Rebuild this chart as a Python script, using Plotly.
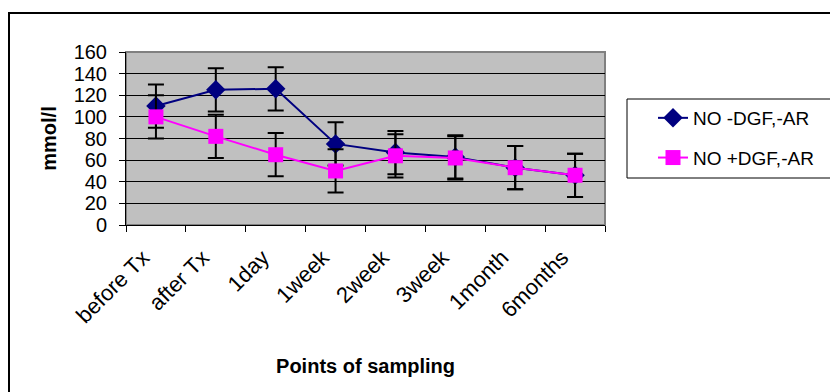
import plotly.graph_objects as go

categories = ["before Tx", "after Tx", "1day", "1week", "2week", "3week", "1month", "6months"]
no_neg_dgf = [110, 125, 126, 75, 67, 63, 53, 46]
no_pos_dgf = [100, 82, 65, 50, 64, 62, 53, 46]
err_neg = [20, 20, 20, 20, 20, 20, 20, 20]
err_pos = [20, 20, 20, 20, 20, 20, 20, 20]
y_ticks = [0, 20, 40, 60, 80, 100, 120, 140, 160]

W, H = 838, 392
OFF = 8  # browser body margin
L, R, T, B = 126, 605, 52, 225  # plot area in page pixels

def px(x):
    return (x - L) / (R - L)

def py(y):
    return (B - y) / (B - T)

fig = go.Figure()
fig.add_trace(go.Scatter(
    x=categories, y=no_neg_dgf, name="NO -DGF,-AR", legendgroup="a",
    mode="lines+markers",
    line=dict(color="#000080", width=2),
    marker=dict(symbol="diamond", size=15, color="#000080"),
    error_y=dict(type="data", array=err_neg, color="black", thickness=2, width=8),
))
fig.add_trace(go.Scatter(
    x=categories, y=no_pos_dgf, name="NO +DGF,-AR", legendgroup="b",
    mode="lines+markers",
    line=dict(color="#FF00FF", width=2),
    marker=dict(symbol="square", size=15, color="#FF00FF"),
    error_y=dict(type="data", array=err_pos, color="black", thickness=2, width=8),
))

font = "Liberation Sans, Arial, sans-serif"

fig.update_layout(
    width=W, height=H,
    margin=dict(l=L - OFF, r=W - R + OFF, t=T - OFF, b=H - B + OFF, pad=0),
    paper_bgcolor="white",
    plot_bgcolor="#C0C0C0",
    font=dict(family=font, color="black", size=18),
    showlegend=True,
    legend=dict(
        x=px(653), y=py(99), xanchor="left", yanchor="top",
        bgcolor="rgba(0,0,0,0)", borderwidth=0,
        font=dict(size=19, family=font, color="black"),
        tracegroupgap=12,
    ),
    xaxis=dict(
        type="category",
        tickangle=-45,
        ticks="outside", ticklen=6, tickcolor="black", tickwidth=1,
        tickson="boundaries",
        showline=True, linecolor="black", linewidth=1,
        showgrid=False, zeroline=False,
        tickfont=dict(size=22, family=font),
        ticklabelstandoff=10,
        ticklabelshift=-13,
        title=dict(text="<b>Points of sampling</b>", font=dict(size=20, family=font), standoff=31),
        range=[-0.5, 7.5],
    ),
    yaxis=dict(
        range=[0, 160],
        tickvals=y_ticks,
        ticks="outside", ticklen=6, tickcolor="black", tickwidth=1,
        showline=True, linecolor="black", linewidth=1,
        showgrid=True, gridcolor="black", gridwidth=1,
        zeroline=False,
        tickfont=dict(size=20, family=font),
        ticklabelstandoff=8,
        title=dict(text="<b>mmol/l</b>", font=dict(size=20, family=font), standoff=11),
    ),
    shapes=[
        dict(type="rect", xref="paper", yref="paper",
             x0=px(9), x1=px(860), y0=py(13), y1=py(420),
             line=dict(color="black", width=2), fillcolor="rgba(0,0,0,0)", layer="below"),
        dict(type="rect", xref="paper", yref="paper", x0=0, x1=1, y0=0, y1=1,
             line=dict(color="#808080", width=2), fillcolor="rgba(0,0,0,0)", layer="below"),
        dict(type="rect", xref="paper", yref="paper",
             x0=px(627), x1=px(860), y0=py(178), y1=py(99),
             line=dict(color="black", width=1), fillcolor="white", layer="above"),
    ],
)

fig.write_html("out.html")
